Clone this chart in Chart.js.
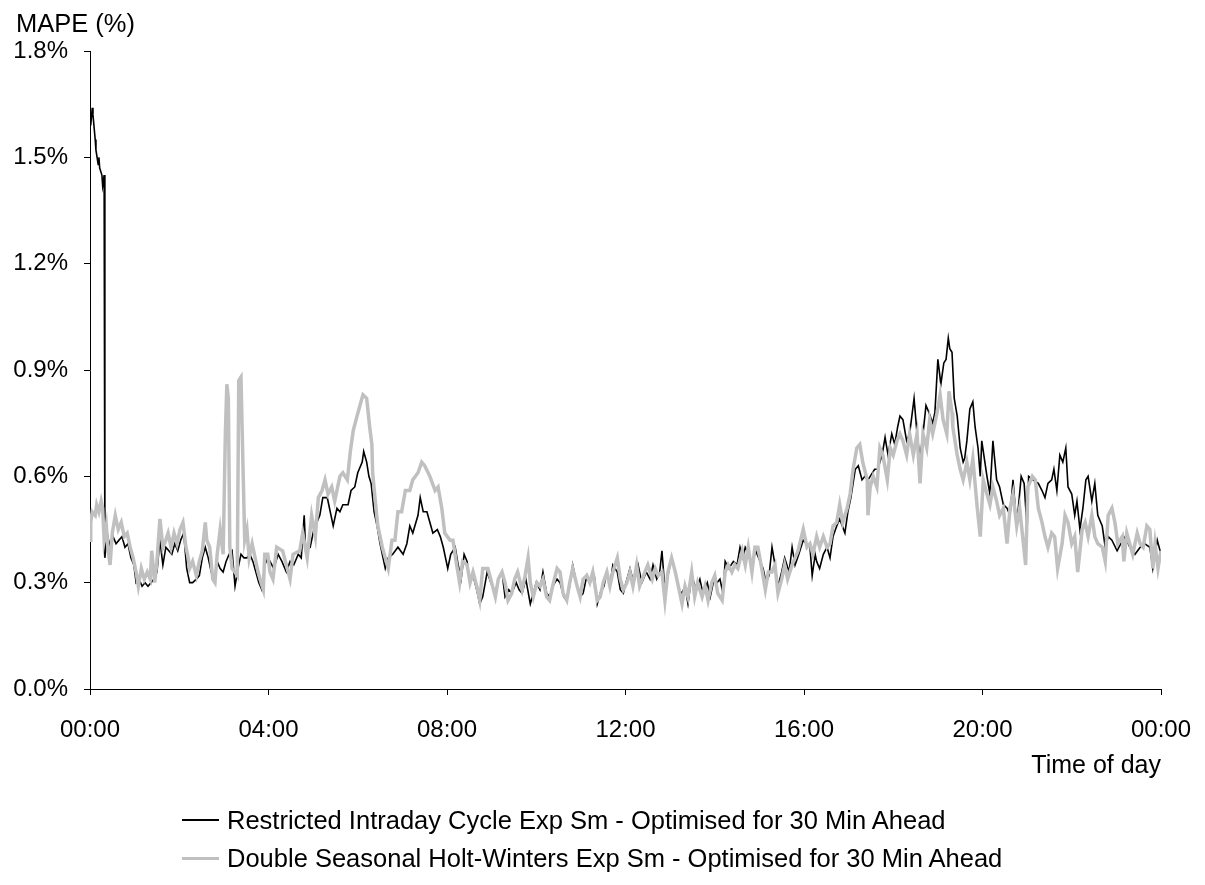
<!DOCTYPE html>
<html>
<head>
<meta charset="utf-8">
<title>MAPE by time of day</title>
<script src="https://cdn.jsdelivr.net/npm/chart.js@4.4.0/dist/chart.umd.min.js"></script>
<style>
  body { margin: 0; background: #fff; }
  #wrap { position: relative; width: 1205px; height: 885px; }
  #legend { position: absolute; left: 182px; top: 801px; font: 25.5px "Liberation Sans", Arial, sans-serif; color: #000; }
  .legend-row { display: flex; align-items: center; height: 38px; }
  .legend-line { width: 37px; margin-right: 8px; }
</style>
</head>
<body>
<div id="wrap">
  <canvas id="mapeChart" width="1205" height="885"></canvas>
  <div id="legend"></div>
</div>
<script>
// Restricted intraday cycle model: minute of day and MAPE (%)
var ricMinutes = [
    0, 1, 3, 4, 7, 8, 11, 12, 13, 16, 17, 19, 20,
    23, 27, 31, 35, 39, 43, 47, 51, 55, 59,
    62, 66, 70, 74, 78, 82, 86, 90, 94, 98,
    102, 106, 110, 114, 118, 122, 126, 130, 134, 138,
    143, 147, 151, 155, 159, 163, 167, 171, 175, 179,
    183, 187, 191, 195, 199, 203, 207, 211, 215, 219,
    223, 227, 231, 235, 239,
    242, 247, 253, 258, 264, 269, 274, 280, 284, 288,
    290, 296, 301, 305, 309, 313, 319, 323, 327, 332,
    336, 340, 347, 351, 356, 360, 366, 368, 372, 375,
    378, 382, 386, 390, 394, 397, 401, 407, 414, 421,
    426, 430, 434, 441, 444, 448, 453, 457, 461, 467,
    471, 475, 479, 481, 485, 491,
    495, 499, 503, 507, 511, 515, 520, 524, 528, 534,
    539, 545, 549, 554, 558, 563, 567, 573, 577, 581,
    586, 592, 596, 600, 605, 609, 614, 618, 622, 628,
    632, 637, 641, 645, 649, 655, 659, 663, 668, 672,
    678, 682, 686, 691, 695, 699, 703, 709, 713, 717,
    722,
    726, 731, 737, 742, 748, 753, 757, 762, 766, 769,
    773, 777, 782, 787, 792, 796, 800, 804, 809, 815,
    820, 824, 830, 834, 839, 843, 847, 851, 854, 859,
    865, 870, 874, 878, 881, 886, 890, 895, 899, 905,
    909, 913, 917, 921, 925, 930, 934, 940, 944, 948,
    953, 959,
    963, 968, 971, 975, 977, 981, 986, 991, 995, 999,
    1004, 1008, 1015, 1019, 1023, 1029, 1033, 1038, 1042, 1046,
    1049, 1055, 1059, 1065, 1069, 1073, 1078, 1082, 1086, 1089,
    1093, 1098, 1102, 1108, 1112, 1116, 1120, 1124, 1128, 1133,
    1136, 1140, 1144, 1148, 1151, 1154, 1156, 1159, 1162, 1166,
    1170, 1174, 1176, 1179, 1183, 1187, 1190, 1194, 1197, 1199,
    1206, 1210, 1214, 1219, 1223, 1228, 1233, 1237, 1241, 1246,
    1252, 1256, 1260, 1262, 1268, 1275, 1280, 1284, 1288, 1293,
    1296, 1300, 1304, 1308, 1312, 1315, 1320, 1324, 1327, 1331,
    1335, 1339, 1342, 1347, 1351, 1355, 1361, 1365, 1369, 1374,
    1381, 1386, 1392, 1398, 1405, 1412, 1418, 1425, 1429, 1435,
    1440
];
var ricMape = [
    1.61, 1.59, 1.64, 1.62, 1.55, 1.52, 1.48, 1.50, 1.47, 1.45, 1.42, 1.45, 0.37,
    0.44, 0.40, 0.43, 0.41, 0.42, 0.43, 0.40, 0.41, 0.37, 0.35,
    0.30, 0.31, 0.29, 0.30, 0.29, 0.30, 0.31, 0.33, 0.42, 0.35,
    0.40, 0.39, 0.38, 0.41, 0.39, 0.42, 0.44, 0.34, 0.30, 0.30,
    0.31, 0.32, 0.37, 0.40, 0.37, 0.33, 0.31, 0.36, 0.34, 0.33,
    0.36, 0.38, 0.39, 0.29, 0.34, 0.38, 0.37, 0.37, 0.38, 0.36,
    0.33, 0.30, 0.28, 0.35, 0.37,
    0.36, 0.34, 0.38, 0.36, 0.33, 0.36, 0.35, 0.38, 0.37, 0.49,
    0.39, 0.40, 0.45, 0.47, 0.49, 0.54, 0.54, 0.50, 0.46, 0.51,
    0.50, 0.52, 0.52, 0.56, 0.57, 0.61, 0.64, 0.67, 0.64, 0.60,
    0.58, 0.50, 0.46, 0.41, 0.37, 0.34, 0.37, 0.38, 0.40, 0.38,
    0.41, 0.46, 0.44, 0.49, 0.54, 0.50, 0.50, 0.47, 0.44, 0.45,
    0.43, 0.40, 0.36, 0.34, 0.38, 0.40,
    0.35, 0.31, 0.38, 0.36, 0.30, 0.32, 0.28, 0.24, 0.26, 0.33,
    0.30, 0.27, 0.31, 0.33, 0.26, 0.28, 0.27, 0.30, 0.28, 0.27,
    0.31, 0.24, 0.27, 0.30, 0.28, 0.33, 0.27, 0.26, 0.29, 0.31,
    0.30, 0.26, 0.25, 0.29, 0.35, 0.29, 0.26, 0.27, 0.32, 0.30,
    0.32, 0.24, 0.27, 0.29, 0.33, 0.29, 0.35, 0.33, 0.28, 0.27,
    0.31,
    0.34, 0.30, 0.35, 0.30, 0.33, 0.31, 0.35, 0.31, 0.33, 0.39,
    0.28, 0.32, 0.37, 0.33, 0.28, 0.27, 0.29, 0.24, 0.32, 0.28,
    0.31, 0.27, 0.30, 0.26, 0.31, 0.30, 0.31, 0.27, 0.36, 0.34,
    0.36, 0.35, 0.40, 0.37, 0.40, 0.38, 0.35, 0.39, 0.37, 0.34,
    0.30, 0.32, 0.40, 0.35, 0.29, 0.33, 0.37, 0.33, 0.40, 0.35,
    0.38, 0.42,
    0.41, 0.40, 0.32, 0.38, 0.36, 0.34, 0.38, 0.40, 0.37, 0.43,
    0.46, 0.48, 0.44, 0.50, 0.54, 0.62, 0.63, 0.59, 0.60, 0.59,
    0.60, 0.62, 0.62, 0.66, 0.71, 0.66, 0.72, 0.69, 0.74, 0.77,
    0.76, 0.70, 0.72, 0.82, 0.72, 0.65, 0.72, 0.80, 0.78, 0.75,
    0.78, 0.93, 0.86, 0.92, 0.93, 0.99, 0.96, 0.95, 0.82, 0.77,
    0.68, 0.64, 0.65, 0.70, 0.79, 0.81, 0.74, 0.68, 0.60, 0.70,
    0.60, 0.55, 0.70, 0.59, 0.57, 0.52, 0.51, 0.49, 0.59, 0.46,
    0.60, 0.58, 0.45, 0.60, 0.59, 0.58, 0.56, 0.54, 0.58, 0.59,
    0.62, 0.56, 0.66, 0.64, 0.68, 0.57, 0.55, 0.49, 0.53, 0.45,
    0.51, 0.59, 0.60, 0.53, 0.58, 0.49, 0.46, 0.40, 0.43, 0.42,
    0.39, 0.41, 0.43, 0.40, 0.38, 0.40, 0.41, 0.40, 0.34, 0.42,
    0.38
];

// Double seasonal Holt-Winters model: minute of day and MAPE (%)
var hwMinutes = [
    0, 1, 3, 7, 9, 12, 15, 17, 19, 22,
    24, 27, 30, 34, 38, 42, 46, 50, 54, 58,
    62, 65, 69, 73, 77, 81, 83, 87, 90, 94,
    98, 102, 105, 109, 113, 117, 121, 125, 129, 132,
    134, 138, 143, 147, 151, 155, 157, 161, 165, 168,
    171, 175, 179, 182, 184, 186, 188, 191, 195, 198,
    200, 203, 206, 208, 211, 214, 218, 222, 226, 230,
    233, 235, 239,
    242, 246, 251, 259, 269, 273, 282, 286, 292, 298,
    303, 307, 312, 316, 320, 325, 329, 336, 340, 346,
    350, 354, 359, 363, 367, 372, 374, 376, 379, 380,
    385, 387, 393, 397, 401, 406, 410, 414, 419, 424,
    430, 434, 441, 446, 450, 457, 464, 468, 473, 477,
    484, 488, 493,
    497, 501, 507, 511, 515, 520, 524, 528, 535, 540,
    545, 549, 554, 558, 562, 567, 571, 575, 581, 585,
    589, 592, 596, 601, 605, 609, 614, 618, 622, 628,
    632, 636, 641, 645, 649, 655, 659, 663, 668, 672,
    676, 682, 686, 690, 695, 699, 703, 709, 713, 717,
    722,
    726, 730, 735, 739, 746, 750, 756, 760, 764, 769,
    773, 777, 782, 787, 791, 796, 800, 804, 809, 813,
    817, 823, 827, 831, 836, 840, 844, 850, 854, 858,
    863, 867, 871, 877, 881, 885, 890, 894, 898, 904,
    908, 912, 917, 921, 925, 930, 934, 938, 944, 948,
    952,
    959, 964, 968, 972, 977, 981, 986, 991, 995, 999,
    1004, 1008, 1012, 1018, 1022, 1026, 1031, 1035, 1039, 1045,
    1046, 1049, 1053, 1058, 1062, 1066, 1072, 1076, 1080, 1085,
    1089, 1093, 1098, 1102, 1107, 1112, 1116, 1120, 1125, 1129,
    1133, 1139, 1143, 1147, 1152, 1155, 1159, 1160, 1166, 1170,
    1174, 1179, 1183, 1187, 1193, 1197,
    1201, 1206, 1210, 1214, 1219, 1223, 1228, 1233, 1237, 1241,
    1246, 1250, 1254, 1258, 1261, 1267, 1271, 1275, 1280, 1284,
    1288, 1293, 1297, 1301, 1307, 1311, 1315, 1320, 1324, 1328,
    1334, 1338, 1342, 1347, 1351, 1355, 1361, 1365, 1369, 1374,
    1378, 1382, 1388, 1390, 1394, 1398, 1402, 1408, 1412, 1416,
    1421, 1425, 1429, 1432, 1436, 1440
];
var hwMape = [
    0.42, 0.47, 0.50, 0.49, 0.52, 0.50, 0.53, 0.51, 0.42, 0.46,
    0.40, 0.35, 0.44, 0.49, 0.45, 0.47, 0.43, 0.44, 0.40, 0.37,
    0.33, 0.29, 0.34, 0.31, 0.33, 0.31, 0.39, 0.30, 0.36, 0.48,
    0.40, 0.42, 0.44, 0.40, 0.44, 0.41, 0.45, 0.47, 0.40, 0.37,
    0.34, 0.36, 0.32, 0.36, 0.39, 0.47, 0.42, 0.40, 0.31, 0.30,
    0.38, 0.45, 0.38, 0.72, 0.86, 0.82, 0.40, 0.34, 0.33, 0.32,
    0.87, 0.88, 0.60, 0.42, 0.45, 0.37, 0.41, 0.37, 0.33, 0.30,
    0.28, 0.38, 0.38,
    0.33, 0.31, 0.40, 0.39, 0.31, 0.38, 0.39, 0.44, 0.37, 0.49,
    0.43, 0.54, 0.56, 0.59, 0.55, 0.57, 0.53, 0.60, 0.61, 0.59,
    0.67, 0.73, 0.77, 0.80, 0.83, 0.82, 0.78, 0.74, 0.69, 0.61,
    0.50, 0.46, 0.40, 0.37, 0.34, 0.42, 0.42, 0.50, 0.50, 0.56,
    0.56, 0.59, 0.61, 0.64, 0.63, 0.60, 0.56, 0.57, 0.51, 0.44,
    0.42, 0.42, 0.35,
    0.30, 0.36, 0.35, 0.30, 0.33, 0.29, 0.25, 0.34, 0.34, 0.30,
    0.26, 0.31, 0.33, 0.30, 0.25, 0.27, 0.31, 0.33, 0.28, 0.32,
    0.37, 0.30, 0.26, 0.30, 0.29, 0.31, 0.26, 0.25, 0.29, 0.34,
    0.33, 0.27, 0.25, 0.30, 0.34, 0.29, 0.26, 0.31, 0.32, 0.30,
    0.33, 0.25, 0.26, 0.30, 0.33, 0.29, 0.33, 0.37, 0.31, 0.28,
    0.30,
    0.33, 0.29, 0.35, 0.29, 0.33, 0.35, 0.31, 0.34, 0.32, 0.33,
    0.25, 0.33, 0.37, 0.33, 0.29, 0.24, 0.29, 0.26, 0.33, 0.26,
    0.30, 0.26, 0.29, 0.25, 0.30, 0.32, 0.27, 0.25, 0.33, 0.35,
    0.33, 0.35, 0.34, 0.39, 0.35, 0.40, 0.33, 0.40, 0.40, 0.33,
    0.28, 0.33, 0.33, 0.35, 0.27, 0.31, 0.35, 0.31, 0.35, 0.37,
    0.39,
    0.45, 0.40, 0.41, 0.38, 0.43, 0.40, 0.43, 0.40, 0.41, 0.46,
    0.47, 0.52, 0.47, 0.51, 0.55, 0.62, 0.68, 0.69, 0.64, 0.59,
    0.49, 0.57, 0.60, 0.57, 0.68, 0.66, 0.59, 0.68, 0.66, 0.70,
    0.72, 0.70, 0.66, 0.72, 0.66, 0.72, 0.58, 0.72, 0.68, 0.76,
    0.72, 0.78, 0.83, 0.76, 0.72, 0.84, 0.78, 0.74, 0.66, 0.62,
    0.59, 0.64, 0.59, 0.65, 0.51, 0.43,
    0.59, 0.55, 0.52, 0.57, 0.53, 0.49, 0.51, 0.41, 0.51, 0.55,
    0.46, 0.51, 0.43, 0.35, 0.57, 0.60, 0.59, 0.51, 0.47, 0.43,
    0.40, 0.44, 0.43, 0.34, 0.41, 0.49, 0.47, 0.41, 0.43, 0.33,
    0.45, 0.47, 0.43, 0.49, 0.43, 0.41, 0.40, 0.36, 0.49, 0.51,
    0.47, 0.41, 0.43, 0.36, 0.44, 0.41, 0.38, 0.44, 0.41, 0.40,
    0.46, 0.45, 0.34, 0.41, 0.34, 0.39
];

var seriesLabels = [
    'Restricted Intraday Cycle Exp Sm - Optimised for 30 Min Ahead',
    'Double Seasonal Holt-Winters Exp Sm - Optimised for 30 Min Ahead'
];
var yAxisTitle = 'MAPE (%)';
var xAxisTitle = 'Time of day';

function toPoints(minutes, values) {
    return minutes.map(function(m, i) { return { x: m, y: values[i] }; });
}

function clockLabel(minutes) {
    var m = minutes % 1440;
    var h = Math.floor(m / 60);
    var mm = m % 60;
    return (h < 10 ? '0' : '') + h + ':' + (mm < 10 ? '0' : '') + mm;
}

var fontFamily = '"Liberation Sans", Arial, sans-serif';
Chart.defaults.font.family = fontFamily;
Chart.defaults.font.size = 24;
Chart.defaults.color = '#000';

// "MAPE (%)" sits above the value axis rather than along it
var yTitlePlugin = {
    id: 'yTitle',
    afterDraw: function(chart) {
        var ctx = chart.ctx;
        ctx.save();
        ctx.font = '25.5px ' + fontFamily;
        ctx.fillStyle = '#000';
        ctx.textAlign = 'left';
        ctx.textBaseline = 'alphabetic';
        ctx.fillText(yAxisTitle, chart.chartArea.left - 74, chart.chartArea.top - 19);
        ctx.restore();
    }
};

var ctx = document.getElementById('mapeChart').getContext('2d');
var mapeChart = new Chart(ctx, {
    type: 'line',
    data: {
        datasets: [{
            label: seriesLabels[0],
            data: toPoints(ricMinutes, ricMape),
            borderColor: '#000000',
            borderWidth: 1.6,
            pointRadius: 0,
            tension: 0,
            order: 1
        }, {
            label: seriesLabels[1],
            data: toPoints(hwMinutes, hwMape),
            borderColor: '#c0c0c0',
            borderWidth: 3.5,
            pointRadius: 0,
            tension: 0,
            order: 0
        }]
    },
    options: {
        responsive: false,
        animation: false,
        layout: {
            padding: { top: 51, right: 44, bottom: 96, left: 0 }
        },
        plugins: {
            legend: { display: false },
            tooltip: { enabled: false }
        },
        scales: {
            x: {
                type: 'linear',
                min: 0,
                max: 1440,
                afterFit: function(scale) {
                    scale.height = 100;
                    // edge labels fit inside the layout padding already
                    scale.paddingLeft = 0;
                    scale.paddingRight = 0;
                },
                border: { display: true, color: '#000', width: 1 },
                grid: { drawOnChartArea: false, drawTicks: true, tickLength: 6, color: '#000', tickColor: '#000' },
                ticks: {
                    stepSize: 240,
                    padding: 21,
                    maxRotation: 0,
                    color: '#000',
                    callback: function(value) { return clockLabel(value); }
                },
                title: {
                    display: true,
                    text: xAxisTitle,
                    align: 'end',
                    color: '#000',
                    font: { size: 25 },
                    padding: { top: 4, bottom: 8 }
                }
            },
            y: {
                min: 0,
                max: 1.8,
                afterFit: function(scale) { scale.width = 90; },
                border: { display: true, color: '#000', width: 1 },
                grid: { drawOnChartArea: false, drawTicks: true, tickLength: 6, color: '#000', tickColor: '#000' },
                ticks: {
                    stepSize: 0.3,
                    padding: 16,
                    color: '#000',
                    callback: function(value) { return value.toFixed(1) + '%'; }
                }
            }
        }
    },
    plugins: [yTitlePlugin]
});

// Legend rows built from the datasets, listed in dataset order
var legendEl = document.getElementById('legend');
mapeChart.data.datasets.forEach(function(ds) {
    var row = document.createElement('div');
    row.className = 'legend-row';
    var line = document.createElement('div');
    line.className = 'legend-line';
    line.style.height = (ds.borderWidth > 2 ? 3 : 2) + 'px';
    line.style.background = ds.borderColor;
    var text = document.createElement('span');
    text.textContent = ds.label;
    row.appendChild(line);
    row.appendChild(text);
    legendEl.appendChild(row);
});
</script>
</body>
</html>
